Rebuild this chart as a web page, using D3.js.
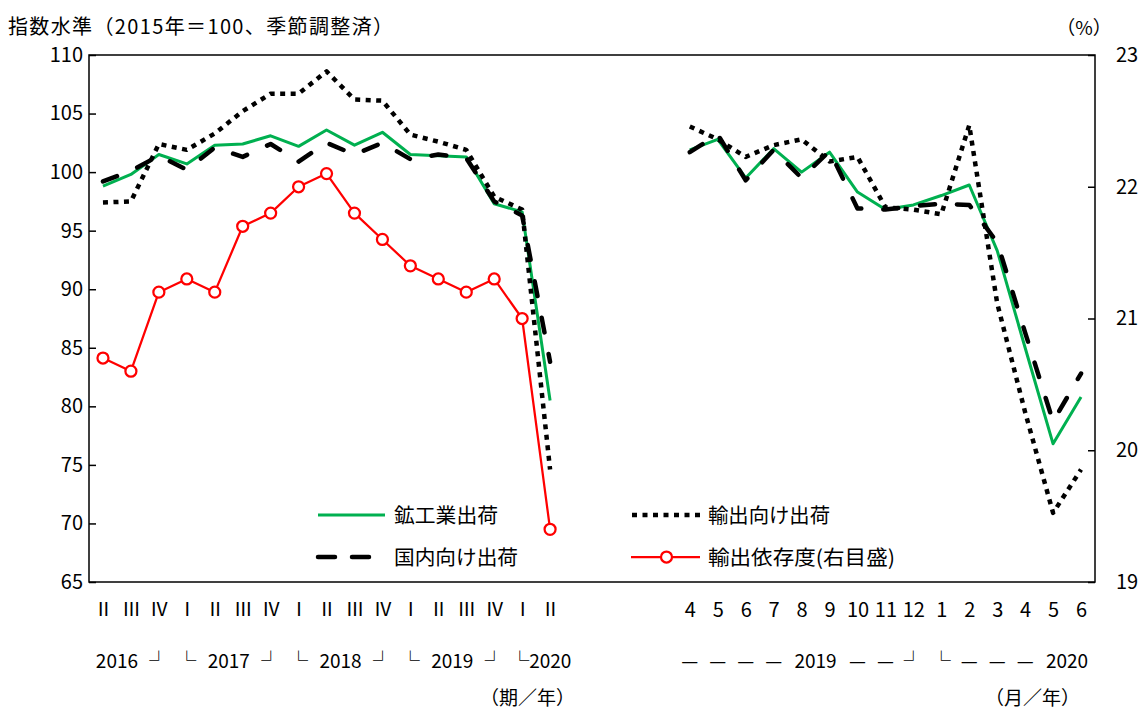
<!DOCTYPE html>
<html><head><meta charset="utf-8">
<script src="https://cdn.jsdelivr.net/npm/d3@7"></script>
<style>
body{margin:0;background:#fff}
svg{display:block}
text{font-family:"Noto Sans CJK JP","Noto Sans",sans-serif;fill:#000}
</style>
</head><body>
<svg id="chart" width="1143" height="713"></svg>
<script>
// ---- data ----
const quarterLabels = ["Ⅱ","Ⅲ","Ⅳ","Ⅰ","Ⅱ","Ⅲ","Ⅳ","Ⅰ","Ⅱ","Ⅲ","Ⅳ","Ⅰ","Ⅱ","Ⅲ","Ⅳ","Ⅰ","Ⅱ"];
const quarterYearLabels = [["2016",0,1],["┘",2,2],["└",3,3],["2017",4,5],["┘",6,6],["└",7,7],["2018",8,9],["┘",10,10],["└",11,11],["2019",12,13],["┘",14,14],["└2020",15,15,"start"]];
const monthLabels = ["4","5","6","7","8","9","10","11","12","1","2","3","4","5","6"];
const monthYearLabels = [["—",0,0],["—",1,1],["—",2,2],["—",3,3],["2019",4,5],["—",6,6],["—",7,7],["┘",8,8],["└",9,9],["—",10,10],["—",11,11],["—",12,12],["2020",13,14]];
const gapSlots = 4;

// quarterly (2016 Q2 - 2020 Q2)
const shipQ     = [98.8, 99.8, 101.5, 100.7, 102.3, 102.4, 103.1, 102.2, 103.6, 102.3, 103.4, 101.5, 101.4, 101.3, 97.3, 96.6, 80.5];
const exportQ   = [97.4, 97.5, 102.4, 101.9, 103.3, 105.2, 106.7, 106.7, 108.6, 106.2, 106.1, 103.2, 102.6, 101.9, 97.9, 96.8, 74.6];
const domesticQ = [99.2, 100.1, 101.4, 100.2, 102.1, 101.3, 102.4, 100.9, 102.5, 101.5, 102.5, 101.1, 101.5, 101.2, 97.5, 96.3, 83.8];
const dependQ   = [20.7, 20.6, 21.2, 21.3, 21.2, 21.7, 21.8, 22.0, 22.1, 21.8, 21.6, 21.4, 21.3, 21.2, 21.3, 21.0, 19.4];

// monthly (2019/4 - 2020/6)
const shipM     = [101.9, 102.8, 99.5, 102.0, 100.0, 101.7, 98.3, 96.8, 97.2, 98.0, 98.9, 93.3, 85.0, 76.8, 80.8];
const exportM   = [103.9, 102.8, 101.3, 102.3, 102.8, 100.9, 101.3, 97.0, 96.8, 96.4, 104.0, 88.8, 79.5, 70.9, 74.6];
const domesticM = [101.7, 103.2, 99.3, 101.9, 99.5, 101.8, 96.9, 96.8, 97.1, 97.3, 97.2, 94.0, 86.3, 78.7, 82.8];

const leftTicks  = [65,70,75,80,85,90,95,100,105,110];
const rightTicks = [19,20,21,22,23];

const titleText = "指数水準（2015年＝100、季節調整済）";
const rightUnit = "（%）";
const qUnit = "（期／年）";
const mUnit = "（月／年）";
const legendLabels = ["鉱工業出荷","輸出向け出荷","国内向け出荷","輸出依存度(右目盛)"];

// ---- layout ----
const L = 89, R = 1095, T = 55, B = 582;
const svg = d3.select("#chart");

const qKeys = quarterLabels.map((d,i)=>"q"+i);
const gKeys = d3.range(gapSlots).map(i=>"g"+i);
const mKeys = monthLabels.map((d,i)=>"m"+i);
const x = d3.scalePoint().domain([...qKeys, ...gKeys, ...mKeys]).range([L, R]).padding(0.5);
const y = d3.scaleLinear().domain([65,110]).range([B, T]);
const y2 = d3.scaleLinear().domain([19,23]).range([B, T]);

const styles = {
  ship:     {stroke:"#00B050", width:3,   dash:null,     cap:"butt"},
  export:   {stroke:"#000",    width:4.5, dash:"5,5.5",  cap:"butt"},
  domestic: {stroke:"#000",    width:4.5, dash:"15,22",  cap:"round"},
  depend:   {stroke:"#FF0000", width:2.25,dash:null,     cap:"butt"}
};

function applyStyle(sel, st){
  sel.attr("fill","none").attr("stroke",st.stroke).attr("stroke-width",st.width)
     .attr("stroke-linecap",st.cap).attr("stroke-linejoin","round");
  if (st.dash) sel.attr("stroke-dasharray", st.dash);
  return sel;
}

function drawSeries(keys, vals, scale, st){
  const line = d3.line().x((d,i)=>x(keys[i])).y(d=>scale(d));
  applyStyle(svg.append("path").datum(vals).attr("d", line), st);
}

// frame
svg.append("rect").attr("x",L).attr("y",T).attr("width",R-L).attr("height",B-T)
  .attr("fill","none").attr("stroke","#000").attr("stroke-width",1.5);

// axes
const axL = svg.append("g").attr("transform",`translate(${L},0)`)
  .call(d3.axisLeft(y).tickValues(leftTicks).tickSize(-7).tickPadding(6).tickFormat(d3.format("d")));
const axR = svg.append("g").attr("transform",`translate(${R},0)`)
  .call(d3.axisRight(y2).tickValues(rightTicks).tickSize(-7).tickPadding(21).tickFormat(d3.format("d")));
[axL, axR].forEach(a=>{
  a.select(".domain").remove();
  a.selectAll("line").attr("stroke","#000").attr("stroke-width",1.5);
  a.selectAll("text").attr("font-size",20).attr("font-family",'"Noto Sans CJK JP",sans-serif').attr("fill","#000");
});

// bottom category labels
const axB = svg.append("g").attr("transform",`translate(0,${B})`)
  .call(d3.axisBottom(x).tickValues([...qKeys, ...mKeys]).tickSize(0).tickPadding(21)
    .tickFormat(k => k[0]==="q" ? quarterLabels[+k.slice(1)] : monthLabels[+k.slice(1)]));
axB.select(".domain").remove();
axB.selectAll("text").attr("font-size",20).attr("font-family",'"Noto Sans CJK JP",sans-serif').attr("fill","#000");
axB.selectAll(".tick").filter(k=>k[0]==="q").select("text")
  .attr("font-family",'"DejaVu Serif",serif').attr("font-size",19);

// year labels row
function yearRow(labels, keys){
  labels.forEach(([t,a,b,anchor])=>{
    const cx = (x(keys[a]) + x(keys[b]))/2;
    svg.append("text").attr("x", anchor==="start" ? cx-12 : cx).attr("y",668)
      .attr("text-anchor", anchor || "middle")
      .attr("font-size",19).text(t);
  });
}
yearRow(quarterYearLabels, qKeys);
yearRow(monthYearLabels, mKeys);

// unit labels
svg.append("text").attr("x",575).attr("y",705).attr("text-anchor","end").attr("font-size",19).text(qUnit);
svg.append("text").attr("x",1080).attr("y",705).attr("text-anchor","end").attr("font-size",19).text(mUnit);
svg.append("text").attr("x",1084).attr("y",35).attr("text-anchor","middle").attr("font-size",19).text(rightUnit);
svg.append("text").attr("x",8).attr("y",34).attr("font-size",20).attr("textLength",385).attr("lengthAdjust","spacing").text(titleText);

// series
drawSeries(qKeys, shipQ, y, styles.ship);
drawSeries(mKeys, shipM, y, styles.ship);
drawSeries(qKeys, exportQ, y, styles.export);
drawSeries(mKeys, exportM, y, styles.export);
drawSeries(qKeys, domesticQ, y, styles.domestic);
drawSeries(mKeys, domesticM, y, styles.domestic);
drawSeries(qKeys, dependQ, y2, styles.depend);
svg.append("g").selectAll("circle").data(dependQ).join("circle")
  .attr("cx",(d,i)=>x(qKeys[i])).attr("cy",d=>y2(d)).attr("r",5.5)
  .attr("fill","#fff").attr("stroke","#FF0000").attr("stroke-width",2.25);

// legend
const legend = [
  {label:legendLabels[0], st:styles.ship,     x1:318, x2:385, y:515, tx:394, tw:104},
  {label:legendLabels[1], st:styles.export,   x1:632, x2:700, y:515, tx:708, tw:122},
  {label:legendLabels[2], st:styles.domestic, x1:318, x2:372, y:557, tx:394, tw:124},
  {label:legendLabels[3], st:styles.depend,   x1:631, x2:700, y:557, tx:708, tw:187, marker:true}
];
legend.forEach(d=>{
  const st = d.st===styles.domestic ? Object.assign({}, d.st, {dash:"17,17"}) : d.st;
  applyStyle(svg.append("line").attr("x1",d.x1).attr("x2",d.x2).attr("y1",d.y).attr("y2",d.y), st);
  if (d.marker) svg.append("circle").attr("cx",(d.x1+d.x2)/2+1).attr("cy",d.y).attr("r",5.5)
      .attr("fill","#fff").attr("stroke","#FF0000").attr("stroke-width",2.25);
  svg.append("text").attr("x",d.tx).attr("y",d.y+7.5).attr("font-size",20.5)
    .attr("textLength",d.tw).attr("lengthAdjust","spacingAndGlyphs").text(d.label);
});
</script>
</body></html>
